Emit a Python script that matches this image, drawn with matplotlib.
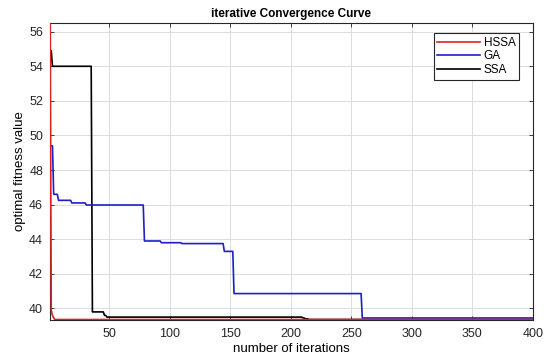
import numpy as np
import matplotlib.pyplot as plt

plt.rcParams['font.family'] = ['Liberation Sans', 'DejaVu Sans']

n_iter = 400

# step curves: iteration where a new best value starts, and that value
hssa_iters = [1, 2, 3, 4, 5]
hssa_vals = [58.0, 39.9, 39.6, 39.45, 39.36]

ga_iters = [1, 4, 8, 19, 31, 79, 93, 110, 145, 153, 259]
ga_vals = [49.4, 46.6, 46.25, 46.1, 45.98, 43.9, 43.8, 43.75, 43.3, 40.86, 39.45]

ssa_iters = [1, 3, 36, 46, 48, 210, 212, 215]
ssa_vals = [54.9, 54.0, 39.8, 39.6, 39.5, 39.45, 39.4, 39.36]

labels = ['HSSA', 'GA', 'SSA']
colors = ['#e02020', '#1f1fc8', 'black']
zorders = [4, 3, 2.8]


def expand(iters, vals):
    # hold each best value until the next improvement
    it = np.arange(1, n_iter + 1)
    idx = np.searchsorted(iters, it, side='right') - 1
    return it, np.asarray(vals)[idx]


fig = plt.figure(figsize=(5.5, 3.6), dpi=100)
ax = fig.add_axes([0.091, 0.111, 0.878, 0.825])

for (its, vs), lab, col, z in zip([(hssa_iters, hssa_vals), (ga_iters, ga_vals),
                                   (ssa_iters, ssa_vals)], labels, colors, zorders):
    x, y = expand(its, vs)
    ax.plot(x, y, color=col, lw=1.2, label=lab, zorder=z)

ax.set_xlim(1, 400)
ax.set_ylim(39.33, 56.5)
ax.set_xticks(np.arange(50, 401, 50))
ax.set_yticks(np.arange(40, 57, 2))
ax.tick_params(direction='in', top=True, right=True, labelsize=9,
               length=3, width=0.6, colors='#262626')
ax.tick_params(axis='x', pad=6)
ax.tick_params(axis='y', pad=5)
ax.grid(color='#dcdcdc', lw=0.7)
for sp in ax.spines.values():
    sp.set_linewidth(0.8)
    sp.set_color('#262626')

ax.set_xlabel('number of iterations', fontsize=9.5, labelpad=2)
ax.set_ylabel('optimal fitness value', fontsize=9.5, labelpad=2)
ax.set_title('iterative Convergence Curve', fontsize=8.5, fontweight='bold', pad=4)

leg = ax.legend(loc='upper right', bbox_to_anchor=(0.971, 0.966), fontsize=8.5,
                fancybox=False, framealpha=1, edgecolor='#262626',
                borderpad=0.3, labelspacing=0.15, handlelength=3.6,
                handletextpad=0.3, borderaxespad=0)
leg.get_frame().set_linewidth(0.8)
leg.set_zorder(5)

plt.savefig('out.png', dpi=100)
